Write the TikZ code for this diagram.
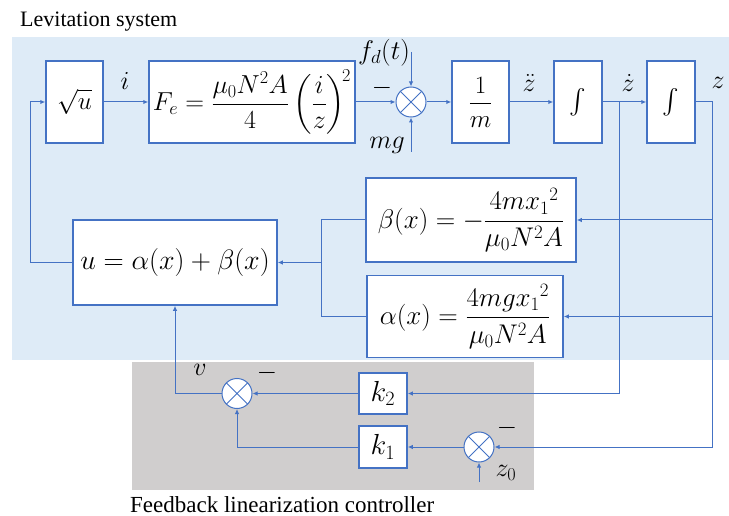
\RequirePackage{fix-cm}
\documentclass[tikz,border=0pt]{standalone}
\usepackage[no-math]{fontspec}
\setmainfont{Liberation Serif}
\usepackage{amsmath}
\usetikzlibrary{arrows.meta}
\definecolor{lnblue}{RGB}{68,114,196}
\definecolor{bgblue}{RGB}{222,235,247}
\definecolor{bggray}{RGB}{208,206,206}
\tikzset{
  blk/.style={draw=lnblue, line width=1.5pt, fill=white, inner sep=0pt, font=\fontsize{25}{30}\selectfont},
  sumc/.style={circle, draw=lnblue, line width=1pt, fill=white, minimum size=30pt, inner sep=0pt,
    path picture={\draw[lnblue,line width=1pt] (path picture bounding box.north west)--(path picture bounding box.south east)
      (path picture bounding box.north east)--(path picture bounding box.south west);}},
  conn/.style={lnblue, line width=1pt},
  arr/.style={conn, -{Latex[length=5pt,width=4.5pt]}},
  lab/.style={font=\fontsize{26}{30}\selectfont, inner sep=0pt},
  ttl/.style={font=\fontsize{22}{26}\selectfont, inner sep=0pt, anchor=base west}
}
\begin{document}
\begin{tikzpicture}[x=1pt,y=-1pt]
\useasboundingbox (0,0) rectangle (729,516);
\fill[bgblue] (12,37) rectangle (729,360);
\fill[bggray] (132,362) rectangle (534,490);
\node[ttl] (t1) at (20,27) {Levitation system};
\node[ttl, font=\fontsize{23}{27}\selectfont] (t2) at (130,512) {Feedback linearization controller};
% blocks
\node[blk, minimum width=57pt, minimum height=82pt] (sq) at (74.5,102) {$\sqrt{u}$};
\node[blk, minimum width=206pt, minimum height=82pt, font=\fontsize{26}{30}\selectfont] (Fe) at (252,102) {$F_e=\dfrac{\mu_0N^2A}{4}\left(\dfrac{i}{z}\right)^{\!2}$};
\node[sumc] (s1) at (411,102) {};
\node[blk, minimum width=57pt, minimum height=82pt] (om) at (480.5,102) {$\dfrac{1}{m}$};
\node[blk, minimum width=48pt, minimum height=82pt] (i1) at (578,102) {$\int$};
\node[blk, minimum width=48pt, minimum height=82pt] (i2) at (671,102) {$\int$};
\node[blk, minimum width=210pt, minimum height=84pt, font=\fontsize{27}{32}\selectfont] (be) at (471,220) {$\beta(x)=-\dfrac{4m{x_1}^2}{\mu_0N^2A}$};
\node[blk, minimum width=196pt, minimum height=82pt, font=\fontsize{27}{32}\selectfont] (al) at (465,316.5) {$\alpha(x)=\dfrac{4mg{x_1}^2}{\mu_0N^2A}$};
\node[blk, minimum width=204pt, minimum height=85pt, font=\fontsize{28}{34}\selectfont] (u) at (175,262.5) {$u=\alpha(x)+\beta(x)$};
\node[blk, minimum width=48pt, minimum height=41pt, font=\fontsize{29}{32}\selectfont] (k2) at (383,393.5) {$k_2$};
\node[blk, minimum width=48pt, minimum height=42pt, font=\fontsize{29}{32}\selectfont] (k1) at (383,447) {$k_1$};
\node[sumc] (sv) at (237,393.5) {};
\node[sumc] (sz) at (479,447) {};
% coordinates
\coordinate (br) at (619,102);
\coordinate (zo) at (712,102);
\coordinate (zbot) at (712,447);
\coordinate (mt) at (321,220);
\coordinate (mb) at (321,316.5);
\coordinate (mid) at (321,262.5);
\coordinate (ul) at (30,262.5);
\coordinate (ut) at (30,102);
\coordinate (fdt) at (411,52);
\coordinate (mgb) at (411,152);
\coordinate (z0b) at (479,482);
% connectors
\draw[arr] (sq) -- (Fe);
\draw[arr] (Fe) -- (s1);
\draw[arr] (fdt) -- (s1.north);
\draw[arr] (mgb) -- (s1.south);
\draw[arr] (s1) -- (om);
\draw[arr] (om) -- (i1);
\draw[arr] (i1) -- (i2);
\draw[arr] (i2.east) -- (zo) -- (zbot) -- (sz.east);
\draw[arr] (zo |- be.east) -- (be.east);
\draw[arr] (zo |- al.east) -- (al.east);
\draw[arr] (br) |- (k2.east);
\draw[arr] (k2) -- (sv);
\draw[arr] (sz) -- (k1);
\draw[arr] (k1.west) -| (sv.south);
\draw[arr] (z0b) -- (sz.south);
\draw[arr] (sv.west) -| (u.south);
\draw[conn] (be.west) -- (mt) -- (mb) -- (al.west);
\draw[arr] (mid) -- (u.east);
\draw[arr] (u.west) -- (ul) -- (ut) -- (sq.west);
% labels
\node[lab] (li) at (125,81) {$i$};
\node[lab] (lm1) at (382,88) {$-$};
\node[lab, font=\fontsize{27}{30}\selectfont] (lfd) at (384,53) {$f_d(t)$};
\node[lab] (lmg) at (387,145) {$mg$};
\node[lab] (lzdd) at (529,83) {$\ddot{z}$};
\node[lab] (lzd) at (628,83) {$\dot{z}$};
\node[lab] (lz) at (718,83) {$z$};
\node[lab] (lv) at (200,370) {$v$};
\node[lab] (lm2) at (267,373) {$-$};
\node[lab] (lm3) at (507,428) {$-$};
\node[lab] (lz0) at (506,473) {$z_0$};
\end{tikzpicture}
\end{document}
